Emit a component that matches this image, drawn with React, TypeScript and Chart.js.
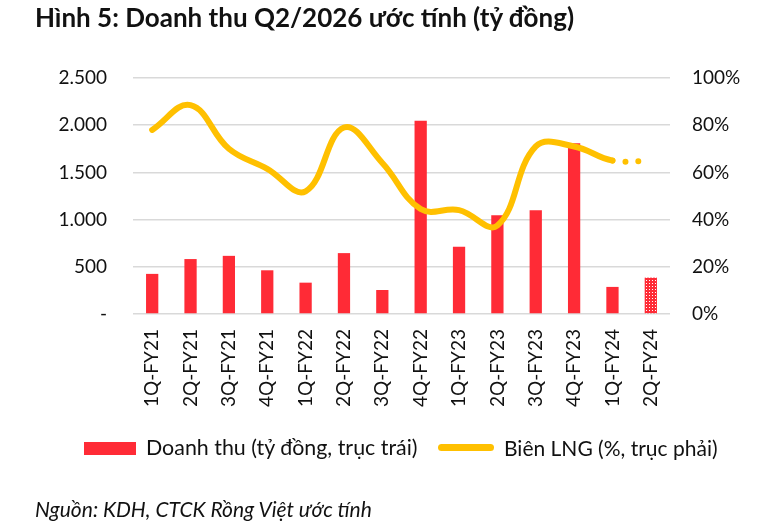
import { useEffect, useRef } from "react";
import { Chart, registerables } from "chart.js";

Chart.register(...registerables);

const categories = [
  "1Q-FY21", "2Q-FY21", "3Q-FY21", "4Q-FY21",
  "1Q-FY22", "2Q-FY22", "3Q-FY22", "4Q-FY22",
  "1Q-FY23", "2Q-FY23", "3Q-FY23", "4Q-FY23",
  "1Q-FY24", "2Q-FY24",
];
const revenue = [425, 582, 616, 463, 332, 645, 254, 2048, 712, 1045, 1098, 1810, 287, 385];
const margin = [78, 88.5, 70, 61.5, 52, 79, 64, 44.5, 44, 37.5, 71, 71, 65, 65];
const leftTicks = [0, 500, 1000, 1500, 2000, 2500];
const rightTicks = [0, 20, 40, 60, 80, 100];

const TITLE = "Hình 5: Doanh thu Q2/2026 ước tính (tỷ đồng)";
const LEGEND_BAR = "Doanh thu (tỷ đồng, trục trái)";
const LEGEND_LINE = "Biên LNG (%, trục phải)";
const SOURCE = "Nguồn: KDH, CTCK Rồng Việt ước tính";

const RED = "#FF2B36";
const GOLD = "#FFC000";
const TEXT = "#111111";
const FONT = "Lato, 'Noto Sans', sans-serif";

function fmtThousands(v: number): string {
  if (v === 0) return "-";
  return String(v).replace(/\B(?=(\d{3})+(?!\d))/g, ".");
}

function makePattern(): CanvasPattern | string {
  const c = document.createElement("canvas");
  c.width = 3;
  c.height = 3;
  const g = c.getContext("2d");
  if (!g) return RED;
  g.fillStyle = RED;
  g.fillRect(0, 0, 3, 3);
  g.fillStyle = "#ffffff";
  g.fillRect(1, 1, 1, 1);
  const p = g.createPattern(c, "repeat");
  return p || RED;
}

export default function App() {
  const ref = useRef<HTMLCanvasElement | null>(null);

  useEffect(() => {
    if (!ref.current) return;
    const pattern = makePattern();
    const barColors = revenue.map((_, i) => (i === revenue.length - 1 ? pattern : RED));
    const lastSolid = margin.length - 2;

    const chart = new Chart(ref.current, {
      type: "bar",
      data: {
        labels: categories,
        datasets: [
          {
            type: "line",
            label: LEGEND_LINE,
            data: margin,
            yAxisID: "y1",
            borderColor: GOLD,
            backgroundColor: GOLD,
            borderWidth: 6,
            borderCapStyle: "round",
            borderJoinStyle: "round",
            tension: 0.4,
            pointRadius: 0,
            order: 0,
            segment: {
              borderDash: (ctx: any) => (ctx.p0DataIndex >= lastSolid ? [0, 13] : undefined),
            },
          } as any,
          {
            type: "bar",
            label: LEGEND_BAR,
            data: revenue,
            yAxisID: "y",
            backgroundColor: barColors as any,
            borderColor: RED,
            borderWidth: 0,
            categoryPercentage: 1,
            barPercentage: 0.32,
            order: 1,
          },
        ],
      },
      options: {
        animation: false,
        responsive: true,
        maintainAspectRatio: false,
        layout: { padding: { top: 78, left: 0, right: 0, bottom: 0 } },
        plugins: {
          legend: { display: false },
          title: { display: false },
          tooltip: { enabled: false },
        },
        scales: {
          x: {
            grid: { display: false, drawTicks: false },
            border: { display: false },
            ticks: {
              autoSkip: false,
              maxRotation: 90,
              minRotation: 90,
              padding: 15,
              color: TEXT,
              font: { family: FONT, size: 19 },
            },
            afterFit: (s: any) => {
              s.height = 215;
            },
          },
          y: {
            position: "left",
            min: 0,
            max: 2500,
            afterBuildTicks: (s: any) => {
              s.ticks = leftTicks.map((v) => ({ value: v }));
            },
            grid: { color: "#D9D9D9", lineWidth: 1.5, drawTicks: false },
            border: { display: false },
            ticks: {
              padding: 26,
              color: TEXT,
              font: { family: FONT, size: 19 },
              callback: (v: any) => fmtThousands(Number(v)),
            },
            afterFit: (s: any) => {
              s.width = 133;
            },
          },
          y1: {
            position: "right",
            min: 0,
            max: 100,
            afterBuildTicks: (s: any) => {
              s.ticks = rightTicks.map((v) => ({ value: v }));
            },
            grid: { display: false, drawTicks: false },
            border: { display: false },
            ticks: {
              padding: 22,
              color: TEXT,
              font: { family: FONT, size: 19 },
              callback: (v: any) => `${v}%`,
            },
            afterFit: (s: any) => {
              s.width = 113;
            },
          },
        },
      },
    });
    return () => chart.destroy();
  }, []);

  const abs = (o: React.CSSProperties): React.CSSProperties => ({
    position: "absolute",
    whiteSpace: "nowrap",
    color: TEXT,
    fontFamily: FONT,
    lineHeight: 1,
    margin: 0,
    ...o,
  });

  return (
    <div style={{ position: "absolute", left: 0, top: 0, width: 783, height: 529, background: "#fff", overflow: "hidden" }}>
      <div style={{ position: "absolute", left: 0, top: 0, width: 783, height: 529 }}>
        <canvas ref={ref} />
      </div>
      <div style={abs({ left: 35, top: 4, fontSize: 26, fontWeight: 700 })}>{TITLE}</div>
      <div style={abs({ left: 84, top: 442, width: 52, height: 13, background: RED })} />
      <div style={abs({ left: 146, top: 437, fontSize: 21.4 })}>{LEGEND_BAR}</div>
      <div style={abs({ left: 438, top: 444, width: 56, height: 7, borderRadius: 4, background: GOLD })} />
      <div style={abs({ left: 504, top: 437, fontSize: 21 })}>{LEGEND_LINE}</div>
      <div style={abs({ left: 35, top: 498, fontSize: 21, fontStyle: "italic" })}>{SOURCE}</div>
    </div>
  );
}
